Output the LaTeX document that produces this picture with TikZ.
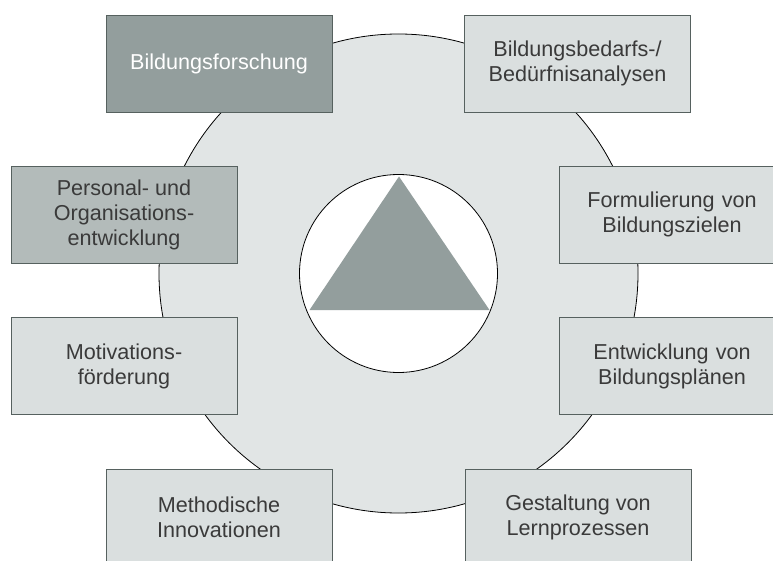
\documentclass[tikz,border=0pt]{standalone}
\usepackage{fontspec}
\setmainfont{Liberation Sans}
\usepackage{tikz}
\usetikzlibrary{positioning, calc}

\definecolor{ringgray}{HTML}{E1E5E5}
\definecolor{boxfill}{HTML}{DADFDF}
\definecolor{boxline}{HTML}{56615F}
\definecolor{coregray}{HTML}{939E9D}
\definecolor{staffgray}{HTML}{B3BBBA}
\definecolor{textgray}{HTML}{3A3A3A}

\begin{document}
\begin{tikzpicture}[
    x=1pt, y=-1pt,
    ring/.style={circle, draw, line width=0.8pt, inner sep=0pt},
    field/.style={rectangle, draw=boxline, fill=boxfill, line width=0.9pt, minimum width=226pt, minimum height=97pt, align=center, text=textgray, font=\fontsize{21.6}{25}\selectfont},
    core/.style={field, fill=coregray, text=white},
    staff/.style={field, fill=staffgray}
]
\useasboundingbox (0,0) rectangle (773,561);
\clip (0,0) rectangle (773,561);

% Rings
\node[ring, fill=ringgray, minimum size=479pt] (outer) at (398.5,273.5) {};
\node[ring, fill=white, minimum size=198pt] (hub) at (outer.center) {};

% Triangle
\fill[coregray] ($(hub)+(0.5,-97)$) -- ($(hub)+(-89,36.5)$) -- ($(hub)+(91,36.5)$) -- cycle;

% Left column
\node[core] (forschung) at (219,63.5) {Bildungsforschung};
\node[staff] (personal) at (124,214.5) {Personal- und\\Organisations-\\entwicklung};
\node[field] (motivation) at (124,366) {Motivations-\\förderung};
\node[field] (methodik) at (219,517.5) {Methodische\\Innovationen};

% Right column
\node[field] (bedarf) at (577.5,63.5) {Bildungsbedarfs-/\\Bedürfnisanalysen};
\node[field, text width=200pt] (ziele) at (672,214.5) {Formulierung von\\Bildungszielen};
\node[field, text width=200pt] (plaene) at (672,366) {Entwicklung von\\Bildungsplänen};
\node[field] (lernen) at (578,517.5) {Gestaltung von\\Lernprozessen};

\end{tikzpicture}
\end{document}
